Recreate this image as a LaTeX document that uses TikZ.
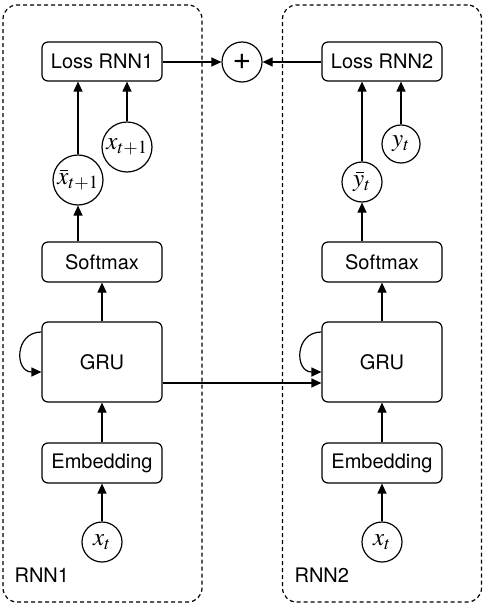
\documentclass[tikz,border=0pt]{standalone}
\usepackage{mathptmx}
\usepackage[no-math]{fontspec}
\setmainfont{TeX Gyre Heros}
\usetikzlibrary{arrows.meta}
\newcommand{\fs}{\fontsize{20}{24}\selectfont}
\newcommand{\fm}{\fontsize{25}{28}\selectfont}
\newcommand{\barover}[2]{\rlap{\kern#1\vrule width 8pt height 14.6pt depth -13.6pt}#2}
\begin{document}
\begin{tikzpicture}[x=1pt,y=-1pt, line width=1.2pt,
  box/.style={draw, rounded corners=6pt, minimum width=120pt, inner sep=0pt, font=\fs},
  circ/.style={draw, circle, inner sep=0pt, font=\fm},
  arr/.style={-{Triangle[length=10pt,width=9pt]}},
  grp/.style={draw, dash pattern=on 4pt off 3pt, rounded corners=14pt, minimum width=199pt, minimum height=597pt, inner sep=0pt},
  lbl/.style={anchor=west, inner sep=0pt, font=\fs}]
\useasboundingbox (0,0) rectangle (484,604);
% groups
\node[grp] (g1) at (102.5,303.5) {};
\node[grp] (g2) at (382,303.5) {};
% left column
\node[box, minimum height=39pt] (loss1) at (102,61.5) {Loss RNN1};
\node[circ, minimum size=50pt] (xb) at (78,180) {$\barover{2.5pt}{x}_{t+1}$};
\node[circ, minimum size=50pt] (xn) at (127,147) {$x_{t+1}$};
\node[box, minimum height=40pt] (soft1) at (102,262) {Softmax};
\node[box, minimum height=80pt] (gru1) at (102,362) {GRU};
\node[box, minimum height=40pt] (emb1) at (102,463) {Embedding};
\node[circ, minimum size=40pt] (x1) at (102,542) {$x_t$};
\node[lbl] (l1) at (14,575) {RNN1};
% right column
\node[box, minimum height=39pt] (loss2) at (382,61.5) {Loss RNN2};
\node[circ, minimum size=40pt] (yb) at (362,182) {$\barover{3pt}{y}_t$};
\node[circ, minimum size=38pt] (yn) at (401,144) {$y_t$};
\node[box, minimum height=40pt] (soft2) at (382,262) {Softmax};
\node[box, minimum height=80pt] (gru2) at (382,362) {GRU};
\node[box, minimum height=40pt] (emb2) at (382,463) {Embedding};
\node[circ, minimum size=40pt] (x2) at (382,542) {$x_t$};
\node[lbl] (l2) at (294,575) {RNN2};
% plus
\node[draw, circle, inner sep=0pt, minimum size=40pt, font=\fontsize{32}{34}\selectfont] (plus) at (242,62) {\raisebox{-1pt}{+}};
% arrows left
\draw[arr] (x1.north) -- (emb1.south);
\draw[arr] (emb1.north) -- (gru1.south);
\draw[arr] (gru1.north) -- (soft1.south);
\draw[arr] (xb.south |- soft1.north) -- (xb.south);
\draw[arr] (xb.north) -- (xb.north |- loss1.south);
\draw[arr] (xn.north) -- (xn.north |- loss1.south);
\draw[arr] ([yshift=30pt]gru1.west) .. controls +(-27,0) and +(-27,0) .. ([yshift=-10pt]gru1.west);
% arrows right
\draw[arr] (x2.north) -- (emb2.south);
\draw[arr] (emb2.north) -- (gru2.south);
\draw[arr] (gru2.north) -- (soft2.south);
\draw[arr] (yb.south |- soft2.north) -- (yb.south);
\draw[arr] (yb.north) -- (yb.north |- loss2.south);
\draw[arr] (yn.north) -- (yn.north |- loss2.south);
\draw[arr] ([yshift=30pt]gru2.west) .. controls +(-27,0) and +(-27,0) .. ([yshift=-10pt]gru2.west);
% cross arrows
\draw[arr] ([yshift=-21pt]gru1.east) -- ([yshift=-21pt]gru2.west);
\draw[arr] (loss1.east |- plus.west) -- (plus.west);
\draw[arr] (loss2.west |- plus.east) -- (plus.east);
\end{tikzpicture}
\end{document}
